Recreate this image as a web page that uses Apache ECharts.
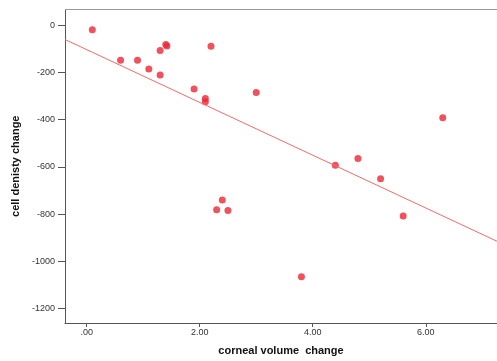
<!DOCTYPE html>
<html>
<head>
<meta charset="utf-8">
<script src="https://cdn.jsdelivr.net/npm/echarts@6/dist/echarts.min.js"></script>
<style>
    html, body {margin: 0; padding: 0; background: #fff; overflow: hidden;}
    #chart {width: 497px; height: 361px;}
</style>
</head>
<body>
<div id="chart"></div>
<script>
    // values
    const volumeChange = [0.10, 0.60, 0.90, 1.10, 1.30, 1.30, 1.40, 1.42, 1.90, 2.10, 2.10, 2.20,
        2.30, 2.40, 2.50, 3.00, 3.80, 4.40, 4.80, 5.20, 5.60, 6.30];
    const densityChange = [-20, -149, -149, -186, -108, -211, -82, -88, -271, -311, -325, -90,
        -782, -740, -785, -285, -1065, -593, -565, -650, -808, -392];
    const fitX = [-0.383, 7.26];
    const fitY = [-61, -915];
    const xTicks = [0, 2, 4, 6];
    const yTicks = [0, -200, -400, -600, -800, -1000, -1200];

    const yMax = 66;
    const points = volumeChange.map((v, i) => [v, densityChange[i]]);
    const fitLine = fitX.map((v, i) => [v, fitY[i]]);

    const chart = echarts.init(document.getElementById("chart"));

    const labelFont = {color: "#333", fontSize: 9, fontFamily: "Liberation Sans"};

    chart.setOption({
        animation: false,
        // right edge pushed just past the canvas: the plot has no right frame
        grid: {show: false, borderWidth: 0, left: 65, top: 9.5, right: -1, bottom: 33},
        xAxis: {
            type: "value",
            min: -0.383,
            max: 7.26,
            name: "corneal volume  change",
            nameLocation: "middle",
            nameGap: 22,
            nameTextStyle: {color: "#111", fontSize: 11, fontWeight: "bold", fontFamily: "Liberation Sans"},
            axisLine: {show: true, onZero: false, lineStyle: {color: "#555", width: 1}},
            axisTick: {show: true, length: 4, customValues: xTicks, lineStyle: {color: "#555"}},
            axisLabel: {
                ...labelFont,
                margin: 5,
                customValues: xTicks,
                formatter: v => v === 0 ? ".00" : v.toFixed(2)
            },
            splitLine: {show: false}
        },
        yAxis: {
            type: "value",
            min: -1261,
            max: yMax,
            name: "cell denisty change",
            nameLocation: "middle",
            nameGap: 40,
            nameTextStyle: {color: "#111", fontSize: 11, fontWeight: "bold", fontFamily: "Liberation Sans"},
            axisLine: {show: true, onZero: false, lineStyle: {color: "#555", width: 1}},
            axisTick: {show: true, length: 7, customValues: yTicks, lineStyle: {color: "#555"}},
            axisLabel: {
                ...labelFont,
                margin: 10,
                customValues: yTicks,
                formatter: v => String(v)
            },
            splitLine: {show: false}
        },
        series: [
            {
                type: "line",
                data: fitLine,
                symbol: "none",
                lineStyle: {color: "#f26b6b", width: 1},
                silent: true,
                // top frame of the plot area
                markLine: {
                    silent: true,
                    symbol: "none",
                    label: {show: false},
                    lineStyle: {color: "#999", width: 1, type: "solid"},
                    data: [{yAxis: yMax}]
                }
            },
            {
                type: "scatter",
                data: points,
                symbolSize: 7,
                itemStyle: {color: "#ee2533"}
            }
        ]
    });
</script>
</body>
</html>
